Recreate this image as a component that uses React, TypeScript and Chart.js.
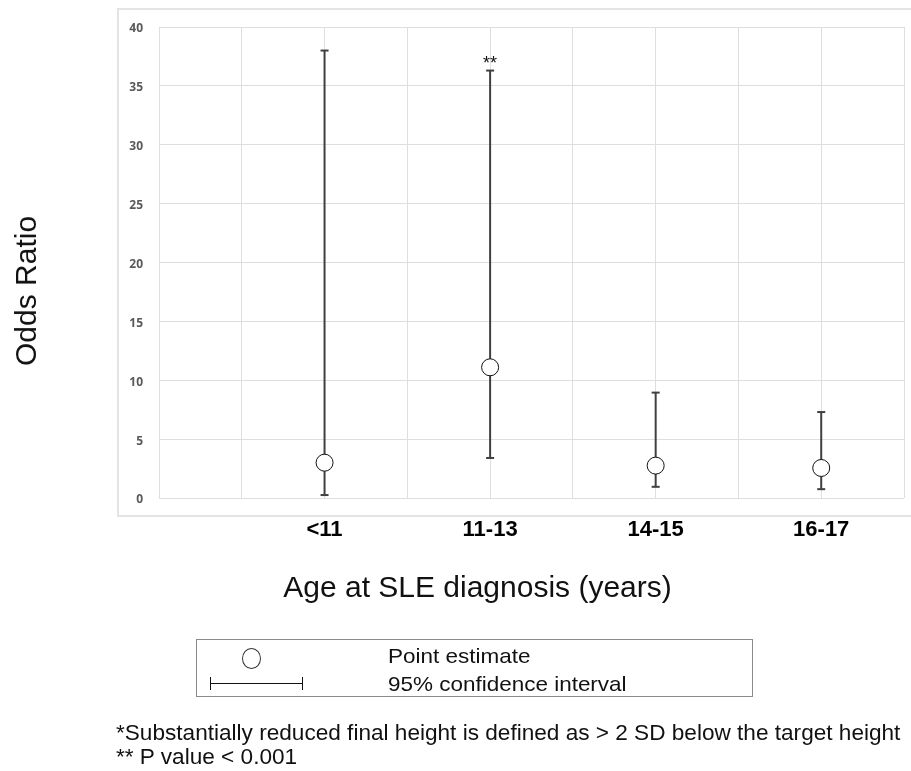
import React, { useEffect, useRef } from "react";
import { Chart, registerables } from "chart.js";

Chart.register(...registerables);

// ---- Data ----
const categories = ["<11", "11-13", "14-15", "16-17"];
const categoryPositions = [2, 4, 6, 8];
const pointEstimates = [3.0, 11.1, 2.75, 2.55];
const lowerCI = [0.25, 3.4, 0.95, 0.75];
const upperCI = [38.0, 36.3, 8.95, 7.3];
const significance = ["", "**", "", ""];
const yTicks = [0, 5, 10, 15, 20, 25, 30, 35, 40];

const yTitle = "Odds Ratio";
const xTitle = "Age at SLE diagnosis (years)";
const legendPoint = "Point estimate";
const legendCI = "95% confidence interval";
const footnote1 = "*Substantially reduced final height is defined as > 2 SD below the target height";
const footnote2 = "** P value < 0.001";

const GRID = "#dedede";
const BAR = "#404040";
const ARIAL = '"Liberation Sans", Arial, sans-serif';

const framePlugin = {
  id: "framePlugin",
  beforeDraw(chart: any) {
    const ctx = chart.ctx;
    ctx.save();
    ctx.strokeStyle = "#e4e4e4";
    ctx.lineWidth = 2;
    ctx.beginPath();
    ctx.moveTo(911, 9);
    ctx.lineTo(118, 9);
    ctx.lineTo(118, 516);
    ctx.lineTo(911, 516);
    ctx.stroke();
    ctx.restore();
  },
  afterDatasetsDraw(chart: any) {
    const ctx = chart.ctx;
    const xs = chart.scales.x;
    const ys = chart.scales.y;
    ctx.save();
    ctx.fillStyle = "#111";
    ctx.font = `18px ${ARIAL}`;
    ctx.textAlign = "center";
    ctx.textBaseline = "alphabetic";
    significance.forEach((s, i) => {
      if (!s) return;
      const px = xs.getPixelForValue(categoryPositions[i]);
      const py = ys.getPixelForValue(upperCI[i]);
      ctx.fillText(s, px, py - 2);
    });
    ctx.restore();
  },
};

function ChartCanvas() {
  const ref = useRef<HTMLCanvasElement | null>(null);
  useEffect(() => {
    if (!ref.current) return;
    const labelMap: Record<number, string> = {};
    categoryPositions.forEach((p, i) => (labelMap[p] = categories[i]));

    const errorSets = categoryPositions.map((p, i) => ({
      type: "line" as const,
      label: "CI " + categories[i],
      data: [
        { x: p, y: lowerCI[i] },
        { x: p, y: upperCI[i] },
      ],
      borderColor: BAR,
      borderWidth: 2,
      pointStyle: "line" as const,
      pointRadius: 4,
      pointHoverRadius: 4,
      pointBorderWidth: 2,
      pointBorderColor: BAR,
      pointBackgroundColor: BAR,
      showLine: true,
      fill: false,
      order: 2,
    }));

    const chart = new Chart(ref.current, {
      type: "scatter",
      data: {
        datasets: [
          {
            type: "scatter" as const,
            label: "Point estimate",
            data: categoryPositions.map((p, i) => ({ x: p, y: pointEstimates[i] })),
            pointRadius: 8.5,
            pointHoverRadius: 8.5,
            pointBackgroundColor: "#ffffff",
            pointBorderColor: "#111111",
            pointBorderWidth: 1,
            order: 0,
          },
          ...errorSets,
        ] as any,
      },
      options: {
        animation: false,
        responsive: false,
        maintainAspectRatio: false,
        layout: { autoPadding: false, padding: { left: 0, top: 27, right: 7, bottom: 213 } },
        plugins: {
          legend: { display: false },
          tooltip: { enabled: false },
          title: { display: false },
        },
        scales: {
          x: {
            type: "linear",
            min: 0,
            max: 9,
            afterFit: (s: any) => {
              s.height = 60;
              s.paddingLeft = 0;
              s.paddingRight = 0;
            },
            afterBuildTicks: (s: any) => {
              s.ticks = [0, 1, 2, 3, 4, 5, 6, 7, 8, 9].map((v) => ({ value: v }));
            },
            ticks: {
              autoSkip: false,
              maxRotation: 0,
              padding: 19,
              color: "#000",
              font: { family: ARIAL, size: 22, weight: "bold" },
              callback: (v: any) => labelMap[Number(v)] ?? "",
            },
            grid: { color: GRID, lineWidth: 1, drawTicks: false },
            border: { display: false },
          },
          y: {
            type: "linear",
            min: 0,
            max: 40,
            afterFit: (s: any) => {
              s.width = 159;
              s.paddingTop = 0;
              s.paddingBottom = 0;
            },
            afterBuildTicks: (s: any) => {
              s.ticks = yTicks.map((v) => ({ value: v }));
            },
            ticks: {
              padding: 16,
              labelOffset: 2,
              color: "#595959",
              font: { family: '"Open Sans", sans-serif', size: 12, weight: 700 },
            },
            grid: { color: GRID, lineWidth: 1, drawTicks: false },
            border: { display: true, color: GRID, width: 1 },
          },
        },
      } as any,
      plugins: [framePlugin],
    });
    return () => chart.destroy();
  }, []);
  return (
    <canvas
      ref={ref}
      width={911}
      height={771}
      style={{ position: "absolute", left: 0, top: 0, width: 911, height: 771 }}
    />
  );
}

const textBase: React.CSSProperties = {
  position: "absolute",
  fontFamily: ARIAL,
  color: "#111",
  whiteSpace: "nowrap",
  lineHeight: 1,
};

export default function App() {
  return (
    <div style={{ position: "absolute", left: 0, top: 0, width: 911, height: 771, background: "#fff", overflow: "hidden" }}>
      <ChartCanvas />
      {/* Y axis title */}
      <div
        style={{
          ...textBase,
          fontSize: 30,
          left: 26,
          top: 291,
          transform: "translate(-50%, -50%) rotate(-90deg)",
        }}
      >
        {yTitle}
      </div>
      {/* X axis title */}
      <div style={{ ...textBase, fontSize: 30, left: 477.5, top: 572, transform: "translateX(-50%)" }}>{xTitle}</div>
      {/* Legend */}
      <div
        style={{
          position: "absolute",
          left: 196,
          top: 639,
          width: 557,
          height: 58,
          border: "1px solid #8a8a8a",
          boxSizing: "border-box",
        }}
      />
      <div
        style={{
          position: "absolute",
          left: 242,
          top: 648,
          width: 19,
          height: 21,
          border: "1px solid #333",
          borderRadius: "50%",
          boxSizing: "border-box",
        }}
      />
      <div style={{ position: "absolute", left: 210, top: 683, width: 93, height: 1, background: "#111" }} />
      <div style={{ position: "absolute", left: 210, top: 677, width: 1, height: 13, background: "#111" }} />
      <div style={{ position: "absolute", left: 302, top: 677, width: 1, height: 13, background: "#111" }} />
      <div style={{ ...textBase, fontSize: 21, left: 388, top: 645, transform: "scaleX(1.07)", transformOrigin: "left top" }}>
        {legendPoint}
      </div>
      <div style={{ ...textBase, fontSize: 21, left: 388, top: 673, transform: "scaleX(1.07)", transformOrigin: "left top" }}>
        {legendCI}
      </div>
      {/* Footnotes */}
      <div style={{ ...textBase, fontSize: 22.6, left: 116, top: 722 }}>{footnote1}</div>
      <div style={{ ...textBase, fontSize: 22.6, left: 116, top: 746 }}>{footnote2}</div>
    </div>
  );
}
